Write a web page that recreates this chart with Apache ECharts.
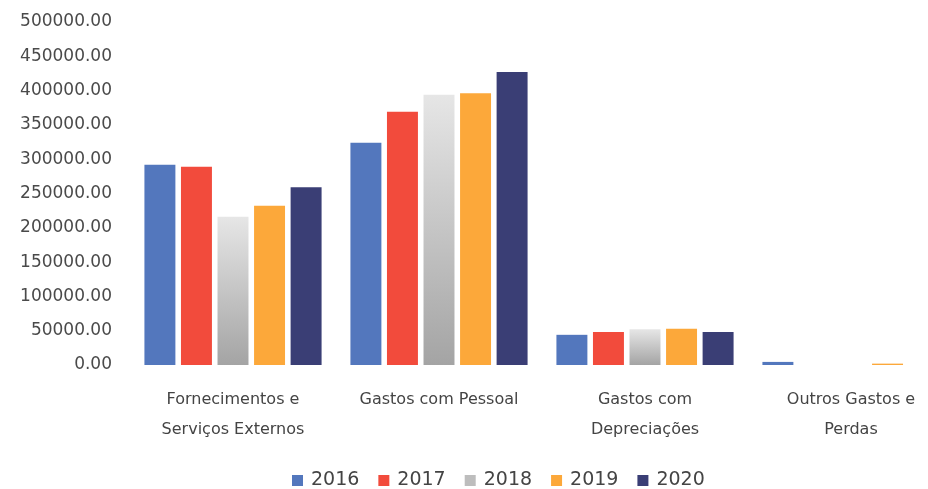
<!DOCTYPE html>
<html>
<head>
<meta charset="utf-8">
<script src="https://cdn.jsdelivr.net/npm/echarts@6/dist/echarts.min.js"></script>
<style>
  html,body{margin:0;padding:0;background:#fff}
  #chart{width:928px;height:489px}
</style>
</head>
<body>
<div id="chart"></div>
<script>
// categorias e valores
var categorias = ['Fornecimentos e\nServiços Externos', 'Gastos com Pessoal', 'Gastos com\nDepreciações', 'Outros Gastos e\nPerdas']
var anos = ['2016', '2017', '2018', '2019', '2020']
var v2016 = [292000, 324000, 44000, 4500]
var v2017 = [289000, 369000, 48000, 0]
var v2018 = [216000, 394000, 52000, 0]
var v2019 = [232000, 396000, 53000, 2000]
var v2020 = [259000, 427000, 48000, 0]
var yTicks = { min: 0, max: 500000, interval: 50000 }

var cores = ['#5377bd', '#f24b3c', '#bdbdbd', '#fca83a', '#3a3e75']
var valores = [v2016, v2017, v2018, v2019, v2020]
var fonte = 'DejaVu Sans'

var chart = echarts.init(document.getElementById('chart'))

var series = anos.map(function (ano, i) {
    var cor = cores[i]
    if (i === 2) {
        cor = new echarts.graphic.LinearGradient(0, 0, 0, 1, [
            { offset: 0, color: '#e6e6e6' },
            { offset: 1, color: '#a4a4a4' }
        ])
    }
    return {
        name: ano,
        type: 'bar',
        data: valores[i],
        barGap: '18%',
        barCategoryGap: '14%',
        itemStyle: { color: cor }
    }
})

chart.setOption({
    animation: false,
    textStyle: { fontFamily: fonte },
    legend: {
        top: 466,
        left: 287,
        itemWidth: 11,
        itemHeight: 11,
        itemGap: 19,
        icon: 'rect',
        textStyle: { fontSize: 19, color: '#444', fontFamily: fonte, padding: [0, 0, 0, 3] },
        data: anos.map(function (a, i) { return { name: a, itemStyle: { color: cores[i] } } })
    },
    grid: { left: 130, top: 22, width: 824, height: 343, outerBoundsMode: 'none', containLabel: false },
    xAxis: {
        type: 'category',
        data: categorias,
        axisLine: { show: false },
        axisTick: { show: false },
        axisLabel: { fontSize: 16, color: '#444', margin: 20, lineHeight: 30, interval: 0, fontFamily: fonte }
    },
    yAxis: {
        type: 'value',
        min: yTicks.min,
        max: yTicks.max,
        interval: yTicks.interval,
        splitLine: { show: false },
        axisLine: { show: false },
        axisLabel: {
            fontSize: 17,
            color: '#4a4a4a',
            margin: 18,
            fontFamily: fonte,
            formatter: function (v) { return v.toFixed(2) }
        }
    },
    series: series
})
</script>
</body>
</html>
